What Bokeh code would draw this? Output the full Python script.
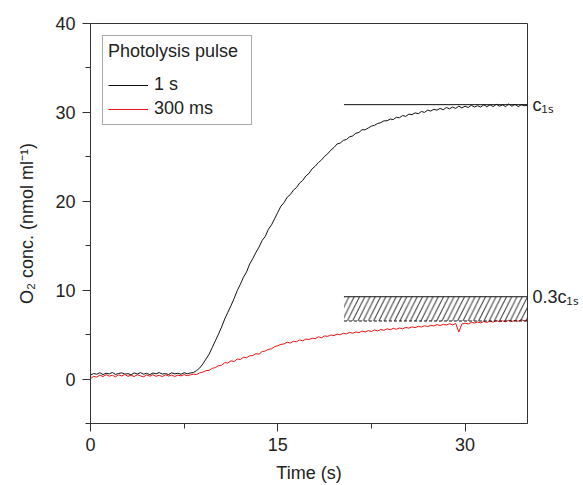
import numpy as np
from bokeh.plotting import figure
from bokeh.models import FixedTicker, Range1d, LinearAxis
from bokeh.embed import file_html
from bokeh.resources import INLINE

# ---------------- data ----------------
t_step = 0.25
time_s = np.round(np.arange(0, 35 + t_step / 2, t_step), 2)

conc_1s = [
    0.45, 0.62, 0.55, 0.71, 0.50, 0.66, 0.58, 0.74,
    0.52, 0.63, 0.70, 0.55, 0.61, 0.48, 0.69, 0.57,
    0.72, 0.55, 0.64, 0.50, 0.68, 0.59, 0.73, 0.56,
    0.62, 0.51, 0.70, 0.58, 0.66, 0.54, 0.71, 0.60,
    0.68, 0.74, 0.95, 1.25, 1.70, 2.25, 2.80, 3.55,
    4.30, 5.05, 5.85, 6.75, 7.50, 8.25, 9.05, 9.95,
    10.65, 11.45, 12.05, 12.95, 13.55, 14.25, 14.85, 15.60,
    16.05, 16.85, 17.35, 18.05, 18.75, 19.45, 19.85, 20.45,
    20.75, 21.25, 21.55, 22.05, 22.35, 22.85, 23.15, 23.65,
    23.95, 24.35, 24.65, 25.05, 25.35, 25.75, 26.05, 26.45,
    26.55, 26.85, 26.95, 27.25, 27.35, 27.65, 27.75, 28.05,
    28.05, 28.25, 28.45, 28.55, 28.75, 28.85, 29.05, 29.05,
    29.25, 29.20, 29.45, 29.40, 29.65, 29.55, 29.80, 29.75,
    29.95, 29.85, 30.10, 30.00, 30.25, 30.15, 30.35, 30.25,
    30.45, 30.30, 30.55, 30.40, 30.60, 30.45, 30.70, 30.50,
    30.70, 30.55, 30.80, 30.60, 30.75, 30.60, 30.85, 30.65,
    30.85, 30.65, 30.90, 30.70, 30.85, 30.65, 30.95, 30.70,
    30.90, 30.65, 30.85, 30.75, 30.80,
]

conc_300ms = [
    0.05, 0.30, 0.22, 0.45, 0.28, 0.50, 0.33, 0.42,
    0.25, 0.47, 0.35, 0.52, 0.30, 0.44, 0.28, 0.49,
    0.36, 0.25, 0.46, 0.32, 0.50, 0.30, 0.43, 0.27,
    0.48, 0.34, 0.45, 0.29, 0.44, 0.36, 0.50, 0.38,
    0.47, 0.55, 0.52, 0.70, 0.78, 0.95, 0.98, 1.20,
    1.30, 1.50, 1.55, 1.85, 1.80, 2.05, 1.98, 2.25,
    2.20, 2.45, 2.40, 2.62, 2.65, 2.85, 2.80, 3.10,
    3.15, 3.35, 3.40, 3.65, 3.75, 3.90, 3.95, 4.15,
    4.05, 4.25, 4.20, 4.40, 4.30, 4.50, 4.45, 4.60,
    4.55, 4.75, 4.65, 4.85, 4.80, 4.95, 4.90, 5.05,
    4.98, 5.15, 5.08, 5.25, 5.15, 5.30, 5.22, 5.40,
    5.30, 5.45, 5.35, 5.52, 5.42, 5.58, 5.48, 5.65,
    5.55, 5.70, 5.60, 5.75, 5.65, 5.82, 5.72, 5.88,
    5.78, 5.92, 5.85, 6.00, 5.90, 6.05, 5.98, 6.12,
    6.02, 6.15, 6.08, 6.22, 6.10, 6.25, 5.30, 6.20,
    6.28, 6.20, 6.38, 6.30, 6.42, 6.32, 6.48, 6.38,
    6.52, 6.40, 6.58, 6.45, 6.55, 6.45, 6.62, 6.48,
    6.60, 6.50, 6.68, 6.55, 6.65,
]

series_labels = ["1 s", "300 ms"]
legend_title = "Photolysis pulse"
x_title = "Time (s)"
y_title = "O₂ conc. (nmol ml⁻¹)"

x_ticks = [0, 15, 30]
x_minor = [7.5, 22.5]
y_ticks = [0, 10, 20, 30, 40]
y_minor = [-5, 5, 15, 25, 35]
x_lim = [0, 35]
y_lim = [-5, 40]

c1s = 30.87           # plateau of the 1 s trace
frac = 0.3            # 0.3 c1s
band_low = 6.53       # dashed lower limit of hatched band
t_annot = 20.3        # start of annotation lines
annot_labels = ["0.3c₁ₛ", "c₁ₛ"]

FONT = "Liberation Sans"
TXT = "#222222"
AX = "#333333"

# ---------------- figure ----------------
p = figure(width=583, height=485, x_range=Range1d(*x_lim), y_range=Range1d(*y_lim),
           output_backend="svg", toolbar_location=None,
           min_border_left=90, min_border_right=56, min_border_top=23, min_border_bottom=60)
p.background_fill_color = "white"
p.border_fill_color = "white"
p.outline_line_color = AX
p.outline_line_width = 1
p.xgrid.visible = False
p.ygrid.visible = False

for ax in (p.xaxis[0], p.yaxis[0]):
    ax.axis_line_color = AX
    ax.major_tick_line_color = AX
    ax.minor_tick_line_color = AX
    ax.major_tick_in = 0
    ax.minor_tick_in = 0
    ax.major_tick_out = 8
    ax.minor_tick_out = 5
    ax.major_label_text_font = FONT
    ax.major_label_text_font_size = "18px"
    ax.major_label_text_color = TXT
    ax.axis_label_text_font = FONT
    ax.axis_label_text_font_size = "18px"
    ax.axis_label_text_font_style = "normal"
    ax.axis_label_text_color = TXT

p.xaxis[0].ticker = FixedTicker(ticks=x_ticks, minor_ticks=x_minor)
p.yaxis[0].ticker = FixedTicker(ticks=y_ticks, minor_ticks=y_minor)
p.xaxis[0].major_label_standoff = 6
p.yaxis[0].major_label_standoff = 7
p.xaxis[0].axis_label = x_title
p.yaxis[0].axis_label = y_title
p.xaxis[0].axis_label_standoff = 9
p.yaxis[0].axis_label_standoff = 15

# right-hand annotation labels (c1s, 0.3 c1s)
annot_vals = [round(frac * c1s, 3), round(c1s, 3)]
rax = LinearAxis(ticker=FixedTicker(ticks=annot_vals, minor_ticks=[]),
                 major_label_overrides={v: s for v, s in zip(annot_vals, annot_labels)})
rax.axis_line_color = None
rax.major_tick_line_color = None
rax.minor_tick_line_color = None
rax.major_tick_out = 0
rax.major_tick_in = 0
rax.major_label_standoff = 5
rax.major_label_text_font = FONT
rax.major_label_text_font_size = "18px"
rax.major_label_text_color = TXT
p.add_layout(rax, "right")

# data lines
p.line(time_s, conc_1s, line_color="#111111", line_width=1, legend_label=series_labels[0])
p.line(time_s, conc_300ms, line_color="#ee1111", line_width=1, legend_label=series_labels[1])

# annotations: c1s line, hatched 0.3c1s band
p.line([t_annot, x_lim[1]], [c1s, c1s], line_color="#111111", line_width=1)
p.quad(left=[t_annot], right=[x_lim[1]], bottom=[band_low], top=[frac * c1s],
       fill_alpha=0, line_alpha=0, hatch_pattern="/", hatch_color="#333333",
       hatch_scale=10.5, hatch_weight=1)
p.line([t_annot, x_lim[1]], [frac * c1s, frac * c1s], line_color="#111111", line_width=1)
p.line([t_annot, x_lim[1]], [band_low, band_low], line_color="#111111", line_width=1,
       line_dash="3 2")

# legend
lg = p.legend[0]
lg.title = legend_title
lg.location = "top_left"
lg.margin = 12
lg.padding = 5
lg.spacing = 3
lg.label_height = 12
lg.glyph_height = 12
lg.glyph_width = 40
lg.label_width = 92
lg.label_standoff = 6
lg.title_standoff = 12
lg.border_line_color = "#555555"
lg.border_line_width = 1
lg.background_fill_alpha = 1
lg.title_text_font = FONT
lg.title_text_font_size = "18px"
lg.title_text_font_style = "normal"
lg.title_text_color = TXT
lg.label_text_font = FONT
lg.label_text_font_size = "18px"
lg.label_text_color = TXT

open("out.html", "w").write(file_html(p, INLINE))
